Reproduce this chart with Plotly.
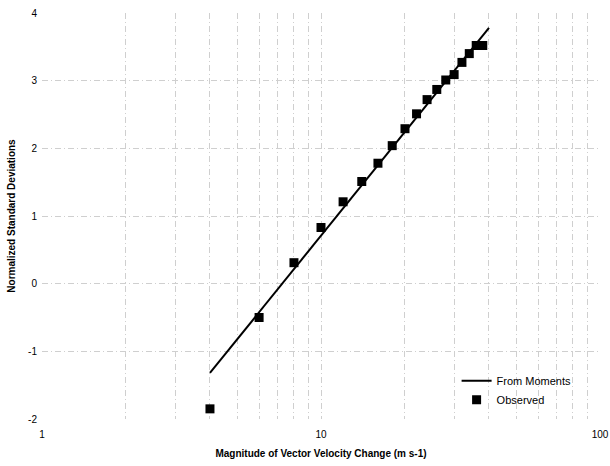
import plotly.graph_objects as go

# Observed points
obs_x = [4, 6, 8, 10, 12, 14, 16, 18, 20, 22, 24, 26, 28, 30, 32, 34, 36, 38]
obs_y = [-1.85, -0.50, 0.31, 0.83, 1.21, 1.51, 1.78, 2.04, 2.29, 2.51, 2.72, 2.87,
         3.01, 3.09, 3.27, 3.40, 3.52, 3.52]

# Fitted line "From Moments" (endpoints)
fit_x = [4, 40]
fit_y = [-1.32, 3.78]

x_tickvals = [1, 2, 3, 4, 5, 6, 7, 8, 9, 10, 20, 30, 40, 50, 60, 70, 80, 90, 100]
x_ticktext = ["1", "", "", "", "", "", "", "", "", "10", "", "", "", "", "", "", "", "", "100"]
y_tickvals = [-2, -1, 0, 1, 2, 3, 4]
y_ticktext = ["-2", "-1", "0", "1", "2", "3", "4"]

font_family = "Liberation Sans, Arial, sans-serif"
grid_col = "#cfcfcf"
grid_dash = "6px,3px,1px,3px"

fig = go.Figure()
fig.add_trace(go.Scatter(
    x=fit_x, y=fit_y, mode="lines", name="From Moments",
    line=dict(color="black", width=2),
))
fig.add_trace(go.Scatter(
    x=obs_x, y=obs_y, mode="markers", name="Observed",
    marker=dict(symbol="square", size=9, color="black"),
))

fig.update_layout(
    width=610, height=466,
    margin=dict(l=42, r=10, t=13, b=47),
    paper_bgcolor="white", plot_bgcolor="white",
    font=dict(family=font_family, color="black", size=10),
    showlegend=True,
    legend=dict(
        x=0.743, y=0.13, xanchor="left", yanchor="top",
        bgcolor="rgba(0,0,0,0)", borderwidth=0,
        font=dict(size=11), itemwidth=30, tracegroupgap=0,
    ),
    xaxis=dict(
        type="log", range=[0, 2], automargin=False,
        tickmode="array", tickvals=x_tickvals, ticktext=x_ticktext,
        ticklabeloverflow="allow",
        showgrid=True, gridcolor=grid_col, gridwidth=1, griddash=grid_dash,
        showline=False, zeroline=False, ticks="",
        tickfont=dict(size=10), ticklabelstandoff=8,
        title=dict(text="<b>Magnitude of Vector Velocity Change (m s-1)</b>",
                   font=dict(size=10), standoff=10),
    ),
    yaxis=dict(
        range=[-2, 4], automargin=False,
        tickmode="array", tickvals=y_tickvals, ticktext=y_ticktext,
        ticklabeloverflow="allow",
        showgrid=True, gridcolor=grid_col, gridwidth=1, griddash=grid_dash,
        showline=False, zeroline=False, ticks="",
        tickfont=dict(size=10),
        ticklabelstandoff=4,
        title=dict(text="<b>Normalized Standard Deviations</b>",
                   font=dict(size=10), standoff=10),
    ),
)

fig.write_html("out.html")
